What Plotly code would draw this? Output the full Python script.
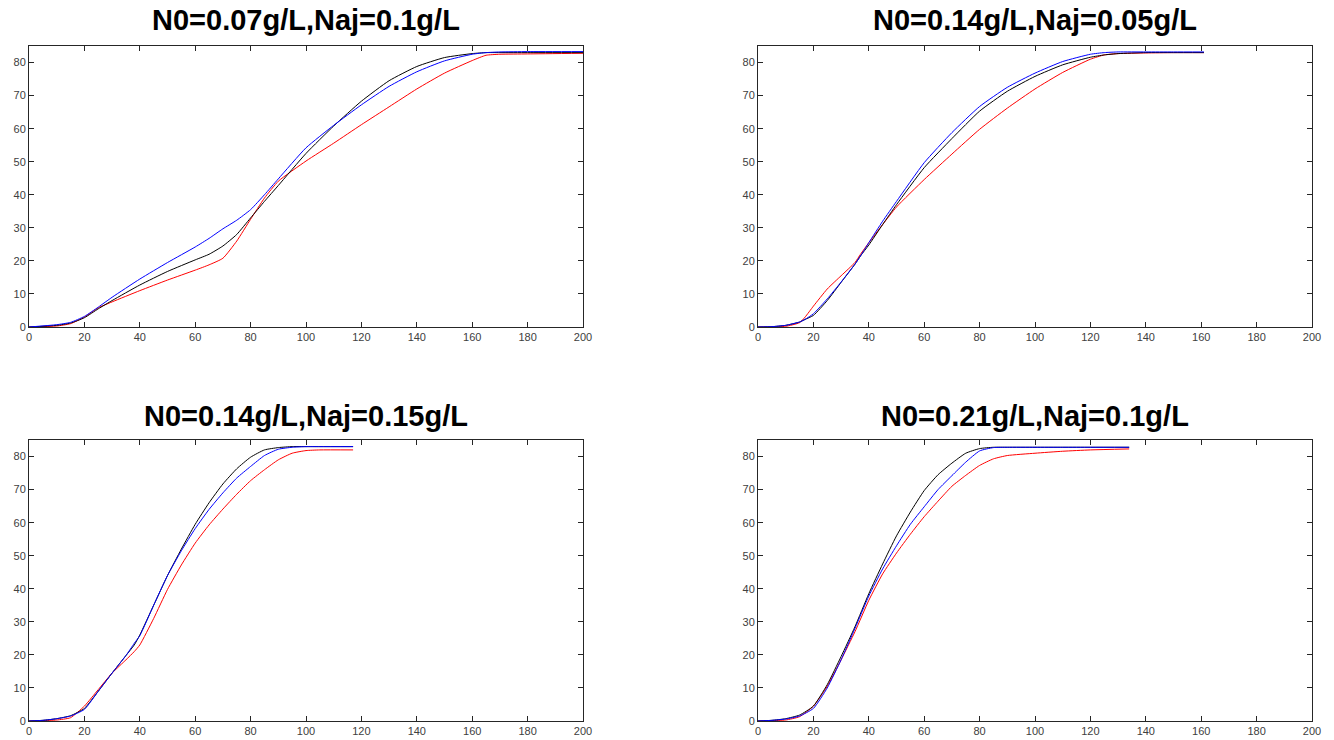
import plotly.graph_objects as go

# ---------------- data ----------------
titles = ["N0=0.07g/L,Naj=0.1g/L", "N0=0.14g/L,Naj=0.05g/L",
          "N0=0.14g/L,Naj=0.15g/L", "N0=0.21g/L,Naj=0.1g/L"]

x1 = [0, 10, 15, 20, 25, 30, 40, 50, 60, 65, 70, 75, 80, 85, 90, 100, 110, 120, 130, 140, 150, 160, 165, 170, 180, 200]
black1 = [0, 0.5, 1.2, 2.8, 5.5, 8, 12.7, 16.8, 20.3, 22, 24.5, 28, 33, 38, 42.8, 52.5, 60.8, 68.3, 74.5, 78.8, 81.5, 82.7, 83, 83, 83, 83]
blue1 = [0, 0.7, 1.4, 3.2, 6, 9, 14.5, 19.5, 24.2, 26.8, 29.7, 32.3, 35.5, 40, 44.8, 54.2, 61, 67.2, 72.8, 77.2, 80.5, 82.5, 83, 83.2, 83.3, 83.3]
red1 = [0, 0.3, 1, 3, 5.8, 7.6, 11, 14.2, 17.2, 18.8, 20.8, 26, 32.6, 39, 44.1, 50.2, 55.6, 61.2, 66.6, 72, 76.8, 80.6, 82.2, 82.5, 82.6, 82.8]

x2 = [0, 5, 10, 15, 17, 20, 25, 30, 35, 37, 40, 45, 50, 60, 70, 80, 90, 100, 110, 120, 125, 130, 140, 150, 161]
black2 = [0, 0.1, 0.5, 1.5, 2.3, 3.5, 8, 13.5, 19, 21.5, 24.8, 31, 37, 48.2, 57, 65.3, 71.3, 75.8, 79.3, 81.6, 82.3, 82.7, 83, 83, 83]
blue2 = [0, 0.1, 0.5, 1.5, 2.3, 4, 8.5, 13.6, 19, 21.5, 25.5, 32, 38, 49.7, 58.8, 66.7, 72.5, 76.8, 80.3, 82.5, 83, 83.2, 83.2, 83.2, 83.2]
red2 = [0, 0, 0.2, 1.3, 3, 6.3, 11.5, 15.5, 19.5, 22, 25.5, 31, 36.3, 44.6, 52.3, 59.8, 66.2, 72, 77, 81, 82.3, 82.7, 82.9, 83, 83]

x3 = [0, 5, 10, 15, 20, 25, 30, 35, 38, 40, 45, 50, 55, 60, 65, 70, 75, 80, 85, 90, 95, 100, 105, 117]
black3 = [0, 0.2, 0.7, 1.6, 3.8, 9, 14.5, 19.8, 23, 26, 35, 44, 52, 59.5, 66, 71.7, 76.3, 79.8, 82, 82.7, 83, 83, 83, 83]
blue3 = [0, 0.2, 0.7, 1.5, 3.5, 9, 14.5, 19.8, 23.5, 25.8, 35, 44, 51.5, 58.2, 64, 69, 73.5, 77, 80.3, 82.2, 82.8, 83, 83, 83]
red3 = [0, 0.1, 0.3, 1, 4.5, 9.5, 14.5, 18.5, 21, 23, 31, 39.8, 47.2, 53.8, 59.3, 64.1, 68.6, 72.7, 76, 79, 81, 81.8, 82, 82]

x4 = [0, 5, 10, 15, 20, 25, 30, 35, 40, 45, 50, 55, 60, 65, 70, 75, 80, 85, 90, 100, 110, 120, 134]
black4 = [0, 0.2, 0.7, 1.8, 4.5, 11, 19.5, 28.5, 38.5, 47.5, 56, 63.2, 69.7, 74.5, 78, 81, 82.4, 82.8, 82.8, 82.8, 82.8, 82.8, 82.8]
blue4 = [0, 0.2, 0.6, 1.5, 3.8, 10, 18.5, 28, 37.8, 46, 53, 59.5, 64.8, 70, 74.2, 78.3, 81.7, 82.7, 82.8, 82.8, 82.8, 82.8, 82.8]
red4 = [0, 0.1, 0.3, 1.3, 4.5, 10.5, 18.5, 27, 36.5, 44.5, 50.8, 56.5, 61.8, 66.5, 71, 74.3, 77.3, 79.3, 80.3, 81, 81.6, 82, 82.3]

x_ticks = [0, 20, 40, 60, 80, 100, 120, 140, 160, 180, 200]
y_ticks = [0, 10, 20, 30, 40, 50, 60, 70, 80]

panels = [
    (x1, red1, black1, blue1),
    (x2, red2, black2, blue2),
    (x3, red3, black3, blue3),
    (x4, red4, black4, blue4),
]

# ---------------- layout geometry ----------------
W, H = 1334, 740
x_doms = [(29 / W, 583 / W), (758 / W, 1312 / W)]
y_doms = [(1 - 327 / H, 1 - 46 / H), (1 - 721 / H, 1 - 440 / H)]
title_y = [1 - 20 / H, 1 - 416 / H]

fig = go.Figure()
axis_color = "#262626"
layout_axes = {}
annotations = []

for i, (xs, r, k, b) in enumerate(panels):
    row, col = divmod(i, 2)
    n = i + 1
    xa = "x" if n == 1 else f"x{n}"
    ya = "y" if n == 1 else f"y{n}"
    for ys, color in ((r, "#ff0000"), (k, "#000000"), (b, "#0000ff")):
        fig.add_trace(go.Scatter(x=xs, y=ys, mode="lines",
                                 line=dict(color=color, width=1, shape="spline", smoothing=0.5),
                                 xaxis=xa, yaxis=ya, showlegend=False, hoverinfo="skip"))
    common = dict(showline=True, linecolor=axis_color, linewidth=1, mirror="ticks",
                  ticks="inside", ticklen=5, tickcolor=axis_color, tickwidth=1,
                  showgrid=False, zeroline=False, automargin=False,
                  tickfont=dict(family="Liberation Sans, Arial, sans-serif", size=11, color="#404040"))
    layout_axes[f"xaxis{'' if n == 1 else n}"] = dict(
        domain=list(x_doms[col]), range=[0, 200], tickmode="array", tickvals=x_ticks,
        anchor=ya, **common)
    layout_axes[f"yaxis{'' if n == 1 else n}"] = dict(
        domain=list(y_doms[row]), range=[0, 85], tickmode="array", tickvals=y_ticks,
        anchor=xa, **common)
    annotations.append(dict(text=f"<b>{titles[i]}</b>", xref="paper", yref="paper",
                            x=(x_doms[col][0] + x_doms[col][1]) / 2, y=title_y[row],
                            xanchor="center", yanchor="middle", showarrow=False,
                            font=dict(family="Liberation Sans, Arial, sans-serif", size=29, color="#000000")))

fig.update_layout(width=W, height=H, margin=dict(l=0, r=0, t=0, b=0),
                  paper_bgcolor="white", plot_bgcolor="white",
                  annotations=annotations, **layout_axes)

fig.write_html("out.html", config={"displayModeBar": False},
               post_script="document.body.style.margin='0';document.body.style.overflow='hidden';")
